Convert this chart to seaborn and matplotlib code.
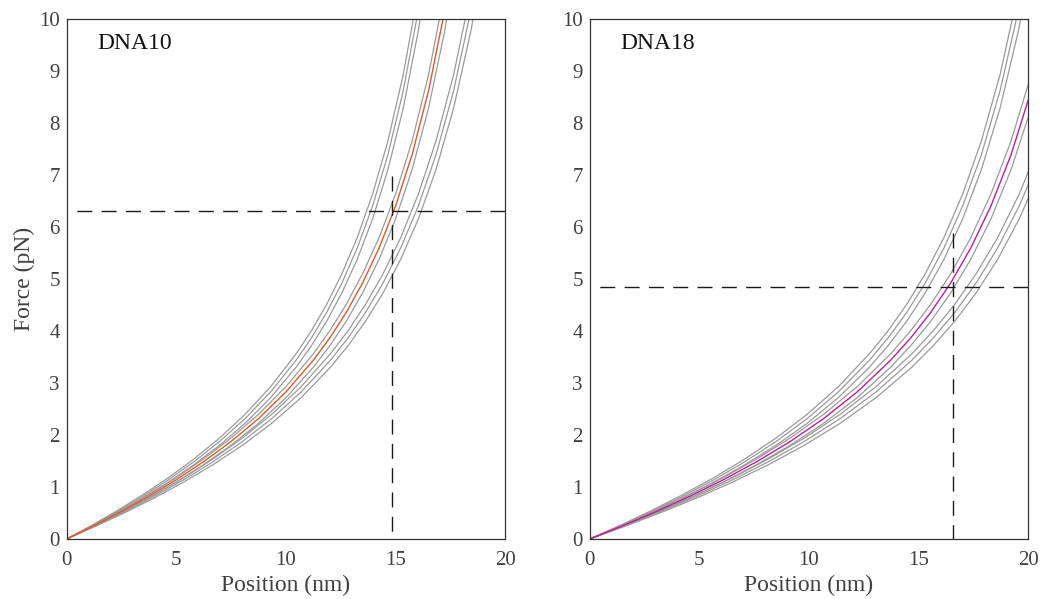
import matplotlib
matplotlib.use('Agg')
import matplotlib.pyplot as plt
import seaborn as sns

# Force (pN) along each curve, one list per stiffness setting (same sample points for both constructs)
force_stiff = [0, 0.267, 0.551, 0.854, 1.182, 1.542, 1.944, 2.400, 2.930, 3.562,
               4.006, 4.515, 5.106, 5.802, 6.636, 7.655, 8.927, 10.554, 12.696]
force_mid = [0, 0.258, 0.531, 0.824, 1.141, 1.489, 1.877, 2.317, 2.829, 3.439,
             3.868, 4.359, 4.929, 5.602, 6.407, 7.391, 8.618, 10.189, 12.257]
force_soft = [0, 0.248, 0.511, 0.792, 1.097, 1.431, 1.804, 2.227, 2.719, 3.305,
              3.718, 4.190, 4.738, 5.384, 6.158, 7.104, 8.284, 9.794, 11.781]

# Position (nm) at those samples, one list per length setting
dna10_pos_short = [0, 1.163, 2.325, 3.488, 4.65, 5.813, 6.975, 8.138, 9.3, 10.463,
                   11.16, 11.858, 12.555, 13.253, 13.95, 14.648, 15.345, 16.043, 16.74]
dna10_pos_mid = [0, 1.25, 2.5, 3.75, 5.0, 6.25, 7.5, 8.75, 10.0, 11.25,
                 12.0, 12.75, 13.5, 14.25, 15.0, 15.75, 16.5, 17.25, 18.0]
dna10_pos_long = [0, 1.337, 2.673, 4.010, 5.346, 6.683, 8.019, 9.356, 10.692, 12.029,
                  12.830, 13.632, 14.434, 15.236, 16.038, 16.840, 17.642, 18.444, 19.246]

dna18_pos_short = [0, 1.418, 2.835, 4.253, 5.67, 7.088, 8.505, 9.923, 11.34, 12.758,
                   13.608, 14.459, 15.309, 16.160, 17.01, 17.861, 18.711, 19.562, 20.412]
dna18_pos_mid = [0, 1.525, 3.05, 4.575, 6.1, 7.625, 9.15, 10.675, 12.2, 13.725,
                 14.64, 15.555, 16.47, 17.385, 18.3, 19.215, 20.13, 21.045, 21.96]
dna18_pos_long = [0, 1.633, 3.265, 4.898, 6.53, 8.163, 9.795, 11.428, 13.06, 14.693,
                  15.672, 16.652, 17.631, 18.611, 19.59, 20.570, 21.549, 22.529, 23.508]

# guide lines: (position, force, top of the vertical guide)
dna10_guide = (14.82, 6.3, 6.98)
dna18_guide = (16.58, 4.85, 5.88)

x_ticks = [0, 5, 10, 15, 20]
y_ticks = list(range(0, 11))

sns.set_theme(style='white')
plt.rcParams['font.family'] = ['Liberation Serif', 'DejaVu Serif']

GRAY = '#9a9a9a'
AXCOL = '#333333'
TXT = '#404040'


def draw_panel(ax, positions, name, accent, guide, ylabel):
    forces = [force_stiff, force_mid, force_soft]
    for i, pos in enumerate(positions):
        for j, force in enumerate(forces):
            if i == 1 and j == 1:
                continue
            sns.lineplot(x=pos, y=force, ax=ax, color=GRAY, lw=0.9,
                         sort=False, estimator=None)
    sns.lineplot(x=positions[1], y=force_mid, ax=ax, color=accent, lw=1.0,
                 sort=False, estimator=None)

    gx, gf, gtop = guide
    ax.plot([20, 0], [gf, gf], color='#1a1a1a', lw=1.0, dashes=(10.8, 6.7))
    ax.plot([gx, gx], [gtop, 0], color='#1a1a1a', lw=1.0, dashes=(10.8, 6.7))

    ax.set_xlim(0, 20)
    ax.set_ylim(0, 10)
    ax.set_xticks(x_ticks)
    ax.set_yticks(y_ticks)
    ax.tick_params(direction='in', length=5, width=0.8, colors=AXCOL,
                   labelcolor=TXT, labelsize=15, top=False, right=False)
    ax.tick_params(axis='x', pad=9)
    ax.tick_params(axis='y', pad=5)
    for sp in ax.spines.values():
        sp.set_color(AXCOL)
        sp.set_linewidth(0.9)
    ax.set_xlabel('Position (nm)', fontsize=17, color=TXT, labelpad=3)
    if ylabel:
        ax.set_ylabel('Force (pN)', fontsize=17, color=TXT, labelpad=3)
    else:
        ax.set_ylabel('')
    ax.text(0.069, 0.942, name, transform=ax.transAxes, fontsize=17,
            color='#111111', ha='left', va='baseline')


fig = plt.figure(figsize=(10.41, 5.99), dpi=100)
ax_left = fig.add_axes([0.0641, 0.1002, 0.4213, 0.8681])
ax_right = fig.add_axes([0.5665, 0.1002, 0.4213, 0.8681])

draw_panel(ax_left, [dna10_pos_short, dna10_pos_mid, dna10_pos_long], 'DNA10',
           '#e8561f', dna10_guide, True)
draw_panel(ax_right, [dna18_pos_short, dna18_pos_mid, dna18_pos_long], 'DNA18',
           '#c4189c', dna18_guide, False)

fig.savefig('out.png', dpi=100)
